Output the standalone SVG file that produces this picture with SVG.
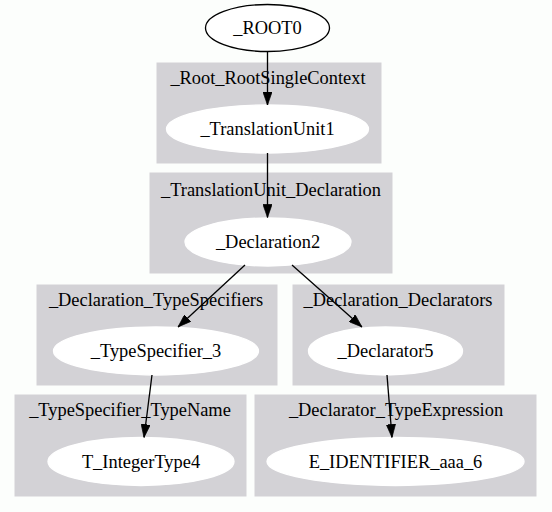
<svg xmlns="http://www.w3.org/2000/svg" width="552" height="512" viewBox="0 0 552 512" font-family="'Liberation Serif', serif">
<defs>
<style>
text{font-family:'Liberation Serif','DejaVu Serif',serif;font-size:18.4px;fill:#000;text-anchor:middle}
.cl{fill:#d3d2d6;stroke:#d3d2d6}
.nd{fill:#ffffff;stroke:#ffffff;stroke-width:1.33}
.root{fill:#ffffff;stroke:#000;stroke-width:1.33}
.edge{stroke:#000;stroke-width:1.33;fill:none}
</style>
<marker id="arr" viewBox="0 0 10 7" refX="10" refY="3.5" markerUnits="userSpaceOnUse" markerWidth="13.3" markerHeight="9.3" orient="auto">
<path d="M0,0 L10,3.5 L0,7 Z" fill="#000" stroke="#000" stroke-width="0.5"/>
</marker>
</defs>
<rect width="552" height="512" fill="#fcfefc"/>
<g id="clusters">
<g id="cluster_Root_RootSingleContext"><rect class="cl" x="157" y="63" width="224" height="100"/><text x="268" y="84">_Root_RootSingleContext</text></g>
<g id="cluster_TranslationUnit_Declaration"><rect class="cl" x="150" y="173" width="242" height="100"/><text x="271" y="196">_TranslationUnit_Declaration</text></g>
<g id="cluster_Declaration_TypeSpecifiers"><rect class="cl" x="37" y="285" width="240" height="100"/><text x="156" y="306">_Declaration_TypeSpecifiers</text></g>
<g id="cluster_Declaration_Declarators"><rect class="cl" x="293" y="285" width="211" height="100"/><text x="398" y="306">_Declaration_Declarators</text></g>
<g id="cluster_TypeSpecifier_TypeName"><rect class="cl" x="15" y="395" width="231" height="101"/><text x="130" y="416">_TypeSpecifier_TypeName</text></g>
<g id="cluster_Declarator_TypeExpression"><rect class="cl" x="255" y="395" width="281" height="101"/><text x="396" y="416">_Declarator_TypeExpression</text></g>
</g>
<g id="ROOT0"><ellipse class="root" cx="267.5" cy="28" rx="62" ry="23.5"/><text x="267.5" y="34">_ROOT0</text></g>
<g id="TranslationUnit1"><ellipse class="nd" cx="267.5" cy="129" rx="101" ry="24"/><text x="267.5" y="135">_TranslationUnit1</text></g>
<g id="Declaration2"><ellipse class="nd" cx="268" cy="242" rx="83" ry="24"/><text x="268" y="248">_Declaration2</text></g>
<g id="TypeSpecifier_3"><ellipse class="nd" cx="156" cy="351" rx="102.5" ry="24"/><text x="156" y="357">_TypeSpecifier_3</text></g>
<g id="Declarator5"><ellipse class="nd" cx="385.5" cy="351" rx="77" ry="24"/><text x="385.5" y="357">_Declarator5</text></g>
<g id="T_IntegerType4"><ellipse class="nd" cx="141" cy="461.5" rx="93" ry="24"/><text x="141" y="467.5">T_IntegerType4</text></g>
<g id="E_IDENTIFIER_aaa_6"><ellipse class="nd" cx="395.5" cy="461.5" rx="128.5" ry="24"/><text x="395.5" y="467.5">E_IDENTIFIER_aaa_6</text></g>
<g id="connectors">
<path class="edge" d="M267.5,51.5 L267.5,105" marker-end="url(#arr)"/>
<path class="edge" d="M267.5,153 L267.5,217.5" marker-end="url(#arr)"/>
<path class="edge" d="M245,265 L178,327" marker-end="url(#arr)"/>
<path class="edge" d="M292,265 L362,327" marker-end="url(#arr)"/>
<path class="edge" d="M152,375 L144,437.5" marker-end="url(#arr)"/>
<path class="edge" d="M387,375 L392,437.5" marker-end="url(#arr)"/>
</g>
</svg>
